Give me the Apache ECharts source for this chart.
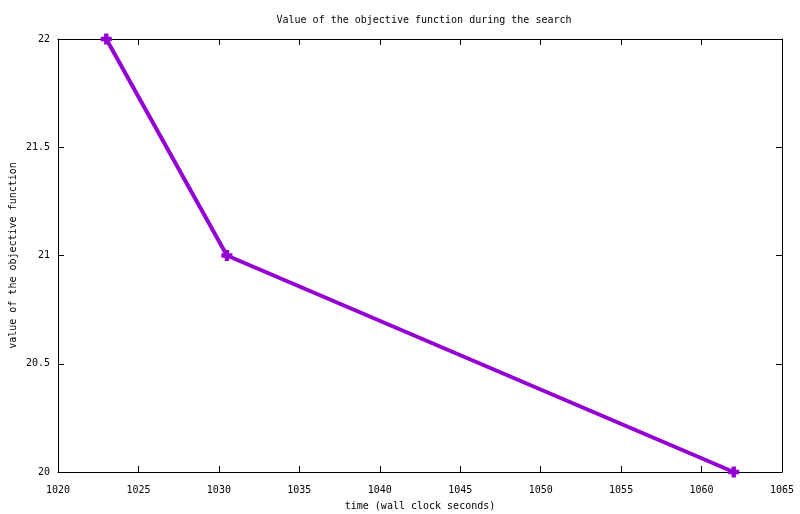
<style>body { margin: 0; }</style>
<script src="https://cdn.jsdelivr.net/npm/echarts@6.0.0/dist/echarts.min.js"></script>

<div id="chart" style="width: 800px; height: 514px;"></div>

<script>
  const times = [1023, 1030.5, 1062];
  const objective = [22, 21, 20];

  const font = "DejaVu Sans Mono";
  const plusSymbol = 'path://M3,0H7V3H10V7H7V10H3V7H0V3H3Z';

  const chartDom = document.getElementById("chart");
  const myChart = echarts.init(chartDom, null, { renderer: "canvas" });

  const axisLine = { show: true, lineStyle: { color: '#000', width: 1 } };
  const axisTick = { show: true, inside: true, length: 6, lineStyle: { color: '#000' } };
  const plain = (v) => String(v);

  const option = {
    animation: false,
    backgroundColor: '#fff',
    title: {
      text: 'Value of the objective function during the search',
      left: 419,
      top: 6,
      textAlign: 'center',
      textStyle: { fontFamily: font, fontSize: 10, fontWeight: 'normal', color: '#000' }
    },
    grid: { left: 58, right: 18, top: 39, bottom: 42, containLabel: false, outerBoundsMode: 'none' },
    xAxis: [
      {
        type: 'value',
        min: 1020,
        max: 1065,
        interval: 5,
        name: 'time (wall clock seconds)',
        nameLocation: 'middle',
        nameGap: 25,
        nameMoveOverlap: false,
        nameTextStyle: { fontFamily: font, fontSize: 10, color: '#000' },
        axisLine: axisLine,
        axisTick: axisTick,
        splitLine: { show: false },
        axisLabel: { fontFamily: font, fontSize: 10, color: '#000', margin: 9, formatter: plain }
      },
      {
        type: 'value',
        position: 'top',
        min: 1020,
        max: 1065,
        interval: 5,
        axisLine: axisLine,
        axisTick: axisTick,
        splitLine: { show: false },
        axisLabel: { show: false }
      }
    ],
    yAxis: [
      {
        type: 'value',
        min: 20,
        max: 22,
        interval: 0.5,
        name: 'value of the objective function',
        nameLocation: 'middle',
        nameGap: 36,
        nameMoveOverlap: false,
        nameTextStyle: { fontFamily: font, fontSize: 10, color: '#000' },
        axisLine: axisLine,
        axisTick: axisTick,
        splitLine: { show: false },
        axisLabel: { fontFamily: font, fontSize: 10, color: '#000', margin: 8, formatter: plain }
      },
      {
        type: 'value',
        position: 'right',
        min: 20,
        max: 22,
        interval: 0.5,
        axisLine: axisLine,
        axisTick: axisTick,
        splitLine: { show: false },
        axisLabel: { show: false }
      }
    ],
    series: [
      {
        type: 'line',
        data: times.map((t, i) => [t, objective[i]]),
        symbol: plusSymbol,
        symbolSize: 11,
        showAllSymbol: true,
        lineStyle: { color: '#9400d3', width: 4 },
        itemStyle: { color: '#9400d3', borderWidth: 0 },
        clip: false
      }
    ]
  };
  myChart.setOption(option);
</script>
